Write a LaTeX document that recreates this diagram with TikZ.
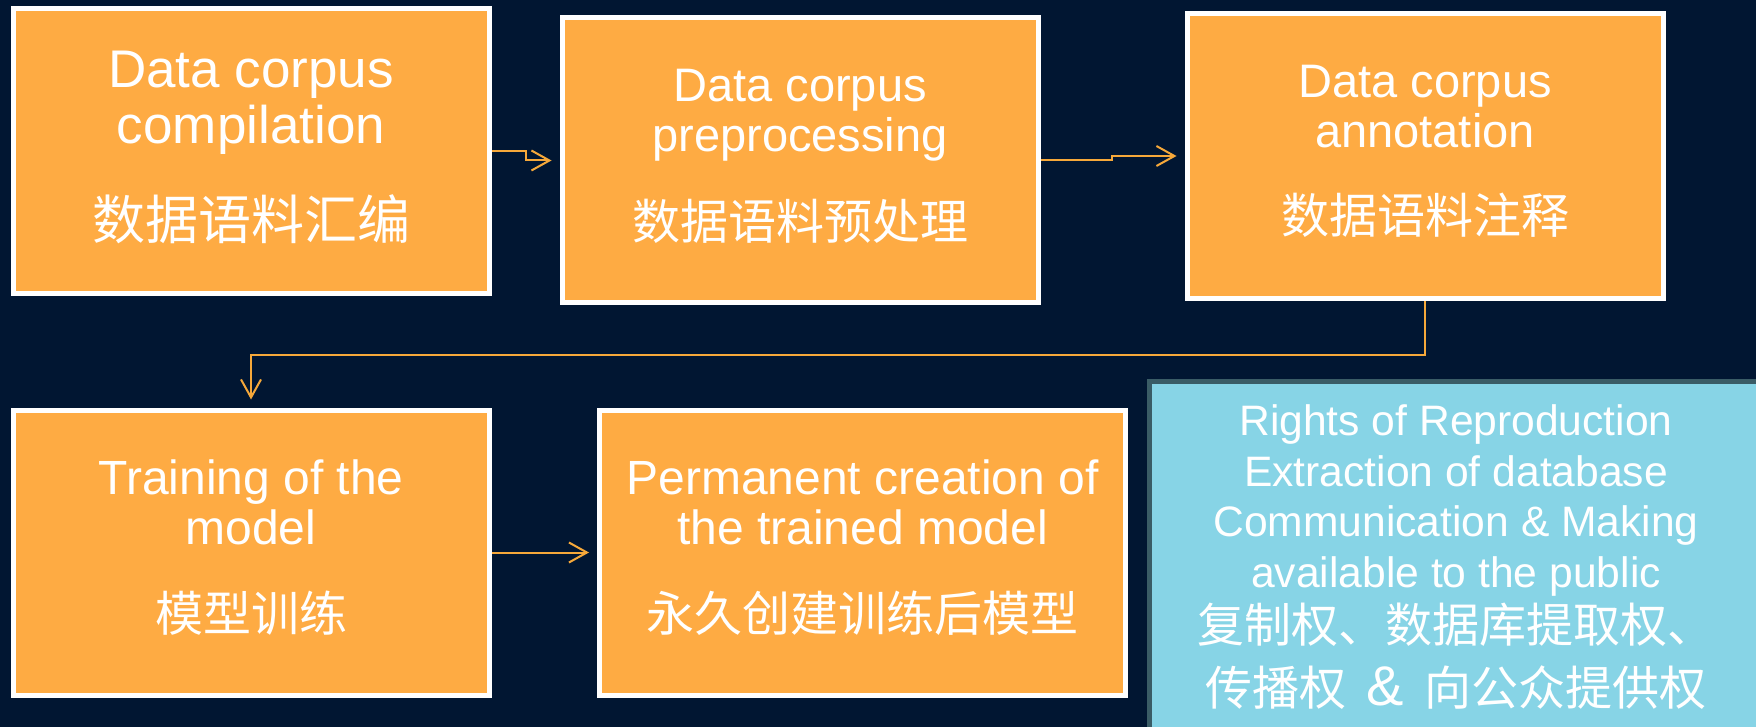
\documentclass[tikz,border=0pt]{standalone}
\usepackage{fontspec}
\setmainfont{Liberation Sans}
\newfontfamily\cjk{Noto Sans CJK SC}
\usetikzlibrary{arrows.meta}

\definecolor{navy}{HTML}{011632}
\definecolor{stagefill}{HTML}{FEAB43}
\definecolor{linkcolor}{HTML}{F6A83A}
\definecolor{rightsfill}{HTML}{87D4E6}
\definecolor{rightsedge}{HTML}{3A5C66}

\begin{document}
\begin{tikzpicture}[x=0.5pt, y=-0.5pt,
    stage/.style={draw=white, line width=2.5pt, fill=stagefill, text=white,
      align=center, inner sep=0pt, minimum width=238pt, minimum height=142.5pt,
      text depth=6.5pt, font=\fontsize{23.5}{25}\selectfont},
    rights/.style={draw=rightsedge, line width=2.5pt, fill=rightsfill, text=white,
      align=center, inner sep=0pt, minimum width=306.5pt, minimum height=175.5pt,
      font=\fontsize{21.3}{25.3}\selectfont},
    link/.style={draw=linkcolor, line width=1pt, shorten >=4pt,
      -{Straight Barb[length=9pt, width=10pt]}}]
    % page
    \useasboundingbox (0, 0) rectangle (1756, 727);
    \fill [navy] (0, 0) rectangle (1756, 727);

    % top row
    \node [stage, font=\fontsize{26.5}{28}\selectfont] (compile) at (251, 151.5)
      {Data corpus\\compilation\\[20pt]{\cjk 数据语料汇编}};
    \node [stage] (prep) at (800, 160.5)
      {Data corpus\\preprocessing\\[18pt]{\cjk\fontsize{24}{25}\selectfont 数据语料预处理}};
    \node [stage] (annot) at (1425, 156)
      {Data corpus\\annotation\\[18pt]{\cjk\fontsize{24}{25}\selectfont 数据语料注释}};

    % bottom row
    \node [stage, font=\fontsize{24}{25}\selectfont] (train) at (251, 552.5)
      {Training of the\\model\\[18.5pt]{\cjk 模型训练}};
    \node [stage, font=\fontsize{24}{25}\selectfont, minimum width=263pt]
      (keep) at (862.5, 552.5)
      {Permanent creation of\\the trained model\\[18.5pt]{\cjk 永久创建训练后模型}};

    % rights box
    \node [rights] (rights) at (1456, 557)
      {Rights of Reproduction\\Extraction of database\\Communication \& Making\\
       available to the public\\[2.5pt]
       {\cjk\fontsize{23.5}{25}\selectfont 复制权、数据库提取权、}\\[6pt]
       {\cjk\fontsize{23.5}{25}\selectfont 传播权\hspace{10pt}{\normalfont\fontsize{28}{25}\selectfont\&}\hspace{10pt}向公众提供权}};

    % links
    \draw [link] (compile.east) -- ++(34, 0) |- (prep.west);
    \draw [link] (prep.east) -- ++(71.5, 0) |- (annot.west);
    \draw [link] (annot.south) -- ++(0, 53.5) -| (train.north);
    \draw [link] (train.east) -- (keep.west);
\end{tikzpicture}
\end{document}
